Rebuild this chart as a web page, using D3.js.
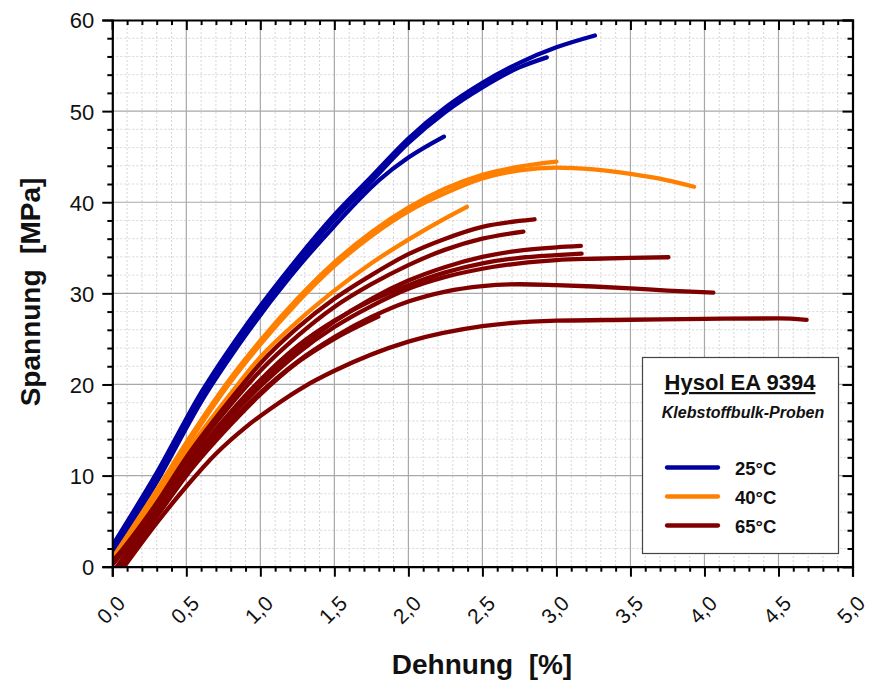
<!DOCTYPE html>
<html>
<head>
<meta charset="utf-8">
<script src="https://cdn.jsdelivr.net/npm/d3@7"></script>
<style>
  html, body { margin: 0; padding: 0; background: #fff; }
  svg { display: block; font-family: "Liberation Sans", Arial, sans-serif; }
</style>
</head>
<body>
<svg id="chart" width="869" height="682"></svg>
<script>
// ---------------- DATA ----------------
const xTickLabels = ["0,0","0,5","1,0","1,5","2,0","2,5","3,0","3,5","4,0","4,5","5,0"];
const yTickLabels = ["0","10","20","30","40","50","60"];
const seriesNames = ["25°C", "40°C", "65°C"];

// 25°C curves [strain %, stress MPa]
const b25_1 = [[0,2.3],[0.3,10.3],[0.6,19.1],[0.9,26.4],[1.2,32.8],[1.5,38.6],[1.75,42.8],[2.0,47.0],[2.25,50.4],[2.5,53.1],[2.75,55.3],[3.0,57.0],[3.26,58.3]];
const b25_2 = [[0,1.8],[0.3,9.8],[0.6,18.6],[0.9,25.9],[1.2,32.3],[1.5,38.1],[1.75,42.3],[2.0,46.5],[2.25,49.9],[2.5,52.6],[2.75,54.8],[2.935,55.9]];
const b25_3 = [[0,1.3],[0.3,9.3],[0.6,18.1],[0.9,25.4],[1.2,31.8],[1.5,37.4],[1.8,42.4],[2.0,44.9],[2.24,47.2]];

// 40°C curves
const o40_1 = [[0,0.6],[0.3,8.0],[0.5,13.2],[0.8,20.3],[1.0,24.4],[1.25,29.0],[1.5,33.0],[1.75,36.3],[2.0,39.0],[2.25,41.0],[2.5,42.6],[2.75,43.5],[3.0,43.8],[3.25,43.6],[3.5,43.1],[3.75,42.4],[3.93,41.7]];
const o40_2 = [[0,0.9],[0.3,8.4],[0.5,13.6],[0.8,20.7],[1.0,24.8],[1.25,29.4],[1.5,33.4],[1.75,36.7],[2.0,39.4],[2.25,41.5],[2.5,43.0],[2.75,43.9],[3.0,44.45]];
const o40_3 = [[0,0.3],[0.3,7.5],[0.5,12.5],[0.8,19.0],[1.0,23.0],[1.25,26.9],[1.5,30.3],[1.75,33.3],[2.0,35.9],[2.2,37.8],[2.395,39.5]];

// 65°C curves
const r65_1 = [[0,0.3],[0.3,7.0],[0.5,12.0],[0.8,18.4],[1.0,22.3],[1.25,26.2],[1.5,29.4],[1.75,32.0],[2.0,34.3],[2.25,36.0],[2.5,37.3],[2.75,37.95],[2.852,38.13]];
const r65_2 = [[0,0.5],[0.3,6.8],[0.5,11.6],[0.8,17.8],[1.0,21.5],[1.25,25.3],[1.5,28.5],[1.75,31.0],[2.0,33.1],[2.25,34.8],[2.5,36.0],[2.777,36.77]];
const r65_3 = [[0.05,0],[0.3,5.8],[0.5,10.6],[0.8,16.6],[1.0,20.0],[1.25,23.8],[1.5,26.9],[1.75,29.4],[2.0,31.4],[2.25,32.9],[2.5,34.0],[2.75,34.7],[3.0,35.05],[3.165,35.2]];
const r65_4 = [[0,0.2],[0.3,6.3],[0.5,11.0],[0.8,17.0],[1.0,20.5],[1.25,24.2],[1.5,27.0],[1.75,29.2],[2.0,30.9],[2.25,32.3],[2.5,33.3],[2.75,33.9],[3.0,34.2],[3.17,34.36]];
const r65_5 = [[0.03,0],[0.3,6.0],[0.5,10.8],[0.8,16.5],[1.0,19.8],[1.25,23.4],[1.5,26.3],[1.75,28.6],[2.0,30.5],[2.25,31.8],[2.5,32.7],[2.75,33.3],[3.0,33.65],[3.25,33.8],[3.5,33.9],[3.757,33.96]];
const r65_6 = [[0,0.6],[0.3,6.0],[0.5,10.4],[0.8,15.9],[1.0,19.1],[1.25,22.5],[1.5,25.2],[1.75,27.4],[2.0,29.1],[2.25,30.2],[2.5,30.8],[2.75,31.0],[3.0,30.9],[3.25,30.75],[3.5,30.55],[3.75,30.3],[4.06,30.07]];
const r65_7 = [[0.08,0],[0.3,4.8],[0.5,8.8],[0.7,12.4],[0.9,15.3],[1.1,17.7],[1.3,19.8],[1.5,21.5],[2.0,24.7],[2.5,26.4],[3.0,27.0],[3.5,27.1],[4.0,27.2],[4.5,27.25],[4.69,27.1]];
const r65_8 = [[0.05,0],[0.3,5.5],[0.5,10.0],[0.8,15.6],[1.0,18.9],[1.25,22.4],[1.5,25.0],[1.797,27.44]];

const curves25 = [b25_1, b25_2, b25_3];
const curves40 = [o40_1, o40_2, o40_3];
const curves65 = [r65_1, r65_2, r65_3, r65_4, r65_5, r65_6, r65_7, r65_8];

// ---------------- STYLE ----------------
const colors = ["#0000a0", "#ff8000", "#800000"];
const m = { left: 112.3, right: 852.5, top: 20, bottom: 566.7 };
const FONT = "Liberation Sans, Arial, sans-serif";

const svg = d3.select("#chart");
const x = d3.scaleLinear().domain([0, 5]).range([m.left, m.right]);
const y = d3.scaleLinear().domain([0, 60]).range([m.bottom, m.top]);

// grid
const minorX = d3.range(0, 5.0001, 0.1).filter(v => Math.abs(v*2 - Math.round(v*2)) > 1e-6);
const minorY = d3.range(0, 60.0001, 2).filter(v => v % 10 !== 0);
const majorX = d3.range(0.5, 5, 0.5);
const majorY = d3.range(10, 60, 10);

const grid = svg.append("g");
grid.selectAll(".mx").data(minorX).enter().append("line")
  .attr("x1", d => x(d)).attr("x2", d => x(d)).attr("y1", m.top).attr("y2", m.bottom)
  .attr("stroke", "#d6d6d6").attr("stroke-width", 1).attr("stroke-dasharray", "2,2");
grid.selectAll(".my").data(minorY).enter().append("line")
  .attr("y1", d => y(d)).attr("y2", d => y(d)).attr("x1", m.left).attr("x2", m.right)
  .attr("stroke", "#d6d6d6").attr("stroke-width", 1).attr("stroke-dasharray", "2,2");
grid.selectAll(".gx").data(majorX).enter().append("line")
  .attr("x1", d => x(d)).attr("x2", d => x(d)).attr("y1", m.top).attr("y2", m.bottom)
  .attr("stroke", "#a8a8a8").attr("stroke-width", 1.2);
grid.selectAll(".gy").data(majorY).enter().append("line")
  .attr("y1", d => y(d)).attr("y2", d => y(d)).attr("x1", m.left).attr("x2", m.right)
  .attr("stroke", "#a8a8a8").attr("stroke-width", 1.2);

// curves
svg.append("defs").append("clipPath").attr("id", "clip")
  .append("rect").attr("x", m.left).attr("y", m.top - 5).attr("width", m.right - m.left).attr("height", m.bottom - m.top + 5);

const line = d3.line().x(d => x(d[0])).y(d => y(d[1])).curve(d3.curveMonotoneX);
const plot = svg.append("g").attr("clip-path", "url(#clip)");
[curves25, curves40, curves65].forEach((group, i) => {
  plot.append("g").selectAll("path").data(group).enter().append("path")
    .attr("d", line).attr("fill", "none").attr("stroke", colors[i])
    .attr("stroke-width", 4.3).attr("stroke-linecap", "round").attr("stroke-linejoin", "round");
});

// axes
const xMajorTicks = d3.range(0, 5.0001, 0.5);
const yMajorTicks = d3.range(0, 60.0001, 10);

const axisBottom = svg.append("g").attr("transform", `translate(0,${m.bottom})`)
  .call(d3.axisBottom(x).tickValues(xMajorTicks).tickSize(10).tickFormat((d, i) => xTickLabels[i]));
const axisLeft = svg.append("g").attr("transform", `translate(${m.left},0)`)
  .call(d3.axisLeft(y).tickValues(yMajorTicks).tickSize(10).tickFormat((d, i) => yTickLabels[i]));
svg.append("g").attr("transform", `translate(0,${m.top})`)
  .call(d3.axisTop(x).tickValues(xMajorTicks).tickSize(-10).tickFormat(""));
svg.append("g").attr("transform", `translate(${m.right},0)`)
  .call(d3.axisRight(y).tickValues(yMajorTicks).tickSize(-10).tickFormat(""));

svg.append("g").attr("transform", `translate(0,${m.bottom})`)
  .call(d3.axisBottom(x).tickValues(minorX).tickSize(5).tickFormat("")).select(".domain").remove();
svg.append("g").attr("transform", `translate(${m.left},0)`)
  .call(d3.axisLeft(y).tickValues(minorY).tickSize(5).tickFormat("")).select(".domain").remove();
svg.append("g").attr("transform", `translate(0,${m.top})`)
  .call(d3.axisTop(x).tickValues(minorX).tickSize(-5).tickFormat("")).select(".domain").remove();
svg.append("g").attr("transform", `translate(${m.right},0)`)
  .call(d3.axisRight(y).tickValues(minorY).tickSize(-5).tickFormat("")).select(".domain").remove();

svg.selectAll(".domain").attr("stroke", "#000").attr("stroke-width", 2.2);
svg.selectAll(".tick line").attr("stroke", "#000").attr("stroke-width", 2);

axisLeft.selectAll(".tick text")
  .attr("x", -18).attr("dy", "0.36em")
  .attr("font-size", 22).attr("font-family", FONT).attr("fill", "#111");

axisBottom.selectAll(".tick text")
  .attr("y", 0).attr("dy", 0)
  .attr("text-anchor", "middle").attr("dominant-baseline", "central")
  .attr("transform", "translate(-2,43) rotate(-45)")
  .attr("font-size", 21).attr("font-family", FONT).attr("fill", "#111");

// axis titles
svg.append("text").attr("x", 482).attr("y", 674).attr("text-anchor", "middle")
  .attr("font-size", 28).attr("font-weight", "bold").attr("fill", "#111").attr("font-family", FONT)
  .style("white-space", "pre")
  .text("Dehnung  [%]");
svg.append("text").attr("transform", "translate(40,292) rotate(-90)").attr("text-anchor", "middle")
  .attr("font-size", 28).attr("font-weight", "bold").attr("fill", "#111").attr("font-family", FONT)
  .style("white-space", "pre")
  .text("Spannung  [MPa]");

// legend
const lg = svg.append("g");
lg.append("rect").attr("x", 642.5).attr("y", 357.5).attr("width", 196).attr("height", 196)
  .attr("fill", "#fff").attr("stroke", "#444").attr("stroke-width", 1.2);
lg.append("text").attr("x", 740).attr("y", 390).attr("text-anchor", "middle")
  .attr("font-size", 22).attr("font-weight", "bold").attr("fill", "#111").attr("font-family", FONT)
  .attr("text-decoration", "underline")
  .text("Hysol EA 9394");
lg.append("text").attr("x", 743).attr("y", 418).attr("text-anchor", "middle")
  .attr("font-size", 16).attr("font-weight", "bold").attr("font-style", "italic").attr("fill", "#111").attr("font-family", FONT)
  .text("Klebstoffbulk-Proben");
const legendY = [467.5, 496.5, 525.5];
seriesNames.forEach((name, i) => {
  lg.append("line").attr("x1", 667).attr("x2", 718).attr("y1", legendY[i]).attr("y2", legendY[i])
    .attr("stroke", colors[i]).attr("stroke-width", 4.3).attr("stroke-linecap", "round");
  lg.append("text").attr("x", 735).attr("y", legendY[i] + 7).attr("font-size", 18.5)
    .attr("font-weight", "bold").attr("fill", "#111").attr("font-family", FONT).text(name);
});
</script>
</body>
</html>
